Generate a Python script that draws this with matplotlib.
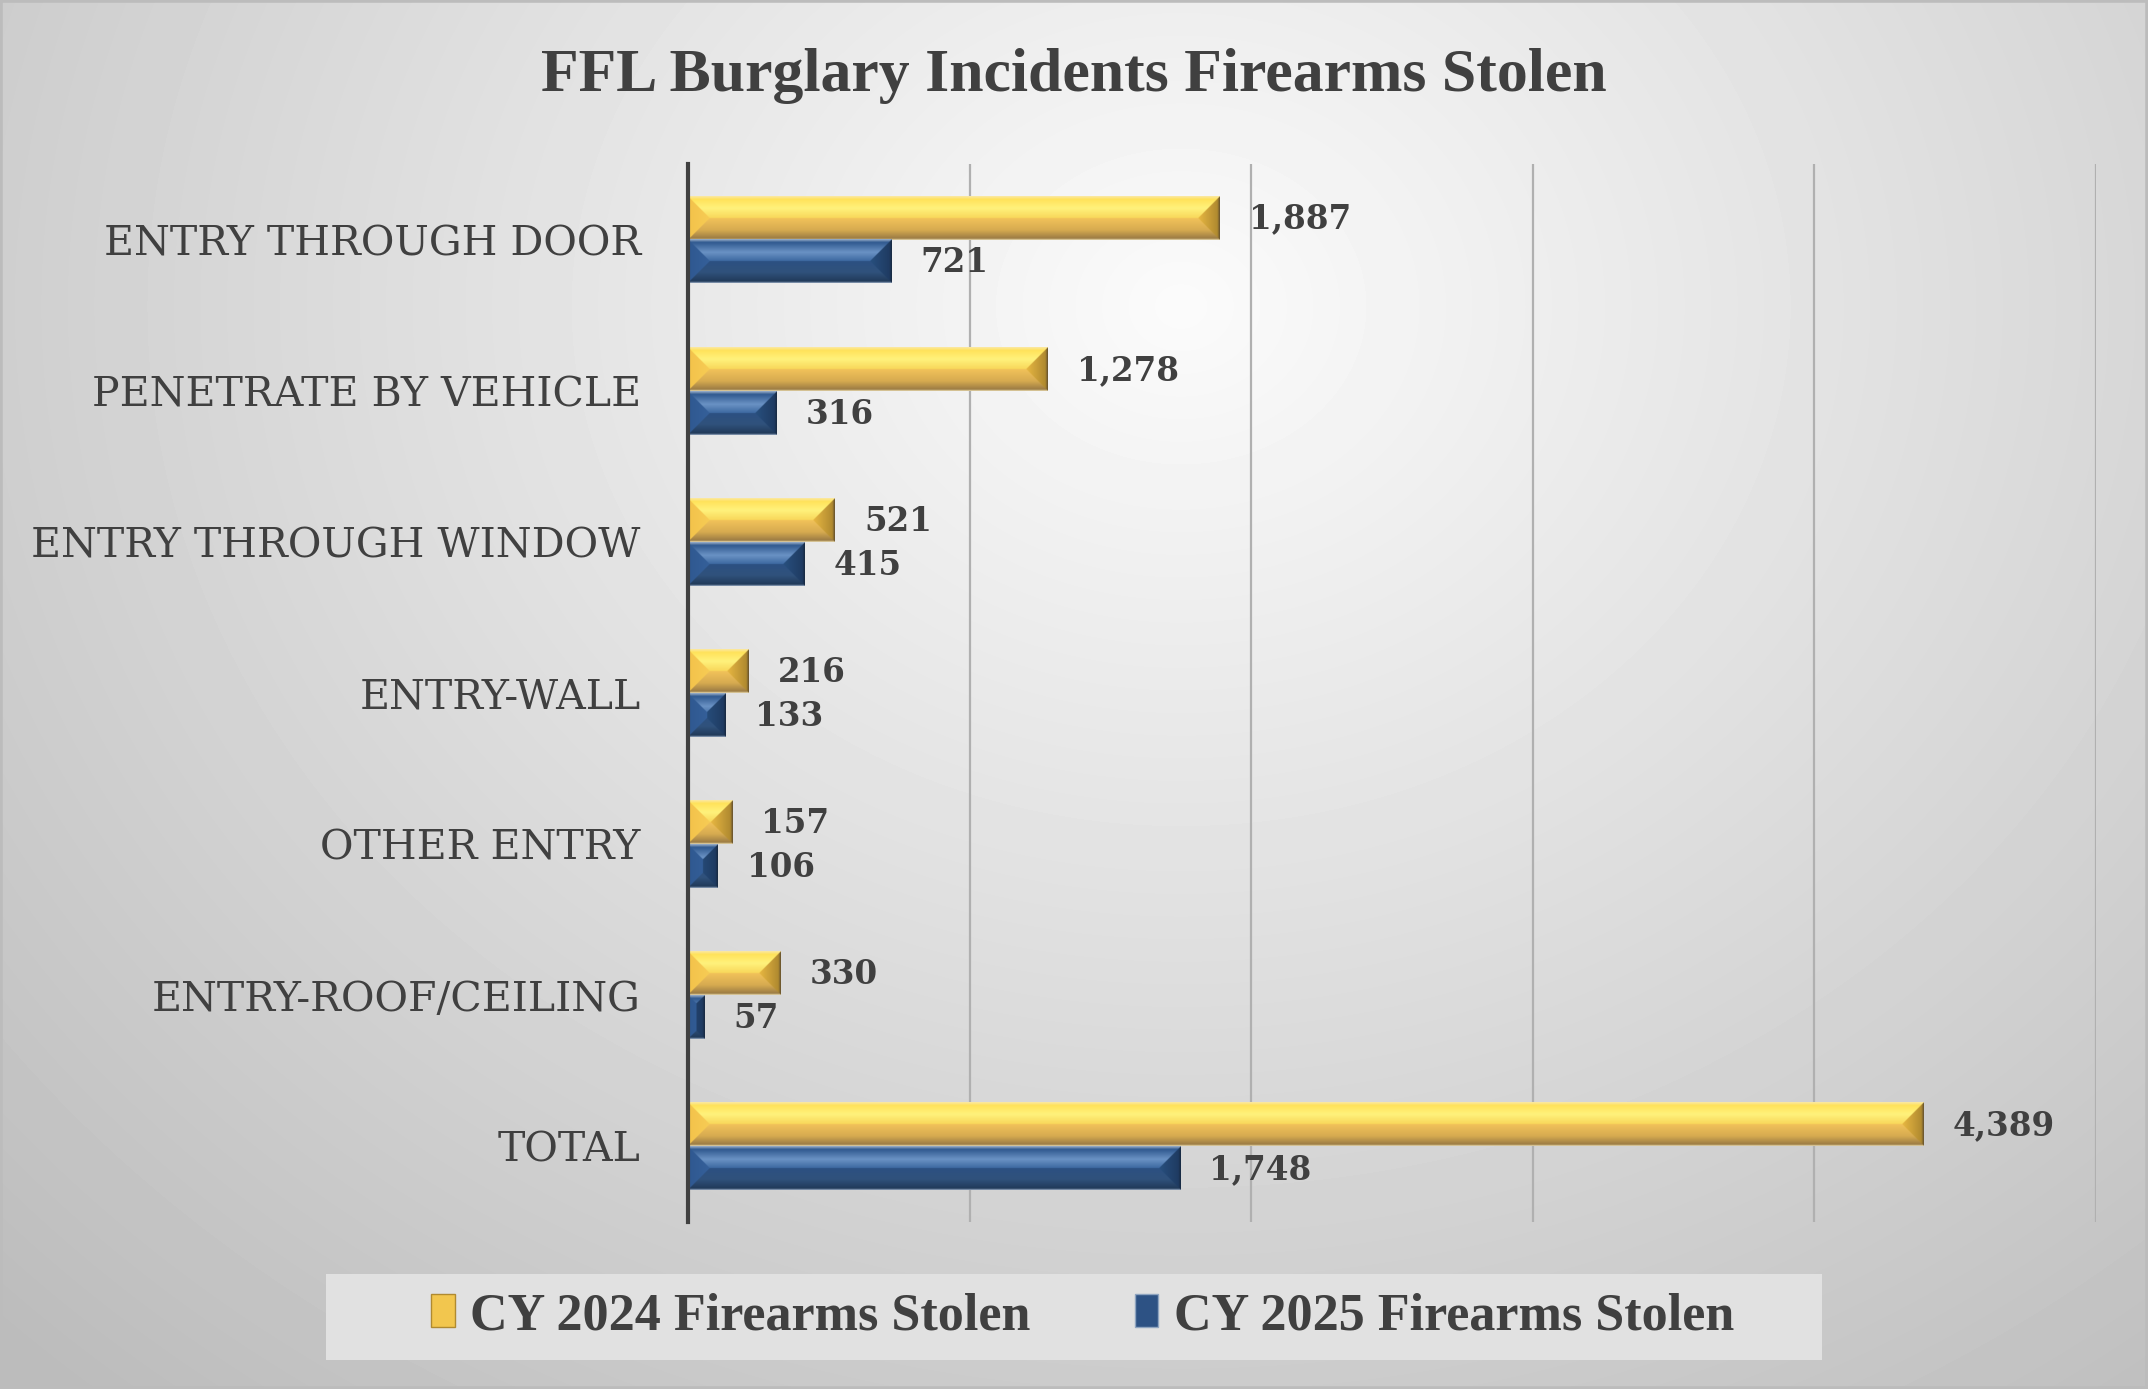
import numpy as np
import matplotlib
matplotlib.use('Agg')
import matplotlib.pyplot as plt
from matplotlib.patches import Rectangle, Patch
from matplotlib.colors import to_rgb

# data
categories = ['ENTRY THROUGH DOOR', 'PENETRATE BY VEHICLE', 'ENTRY THROUGH WINDOW',
              'ENTRY-WALL', 'OTHER ENTRY', 'ENTRY-ROOF/CEILING', 'TOTAL']
cy2024 = [1887, 1278, 521, 216, 157, 330, 4389]
cy2025 = [721, 316, 415, 133, 106, 57, 1748]
series_names = ['CY 2024 Firearms Stolen', 'CY 2025 Firearms Stolen']
xticks = [0, 1000, 2000, 3000, 4000, 5000]

TXT = '#404040'
W, H = 2148, 1389

# bevel colours per face: list of (t, colour), t=0 at the edge, 1 at the centre line
gold = {
    'top': [(0, '#fbe9a8'), (0.15, '#ffe25a'), (0.55, '#fff27c'), (1, '#f8d75a')],
    'bottom': [(0, '#efe2b8'), (0.08, '#9c7c44'), (0.45, '#d6aa50'), (1, '#f2c35a')],
    'left': [(0, '#f3c24a'), (1, '#f7cc55')],
    'right': [(0, '#5e4c2e'), (0.12, '#b08a30'), (1, '#e9b842')],
}
navy = {
    'top': [(0, '#a3b6ce'), (0.15, '#30598f'), (0.6, '#6a92c4'), (1, '#3d69a1')],
    'bottom': [(0, '#a0b1c8'), (0.08, '#213a5a'), (0.5, '#30527c'), (1, '#2c5082')],
    'left': [(0, '#2f5890'), (1, '#35609a')],
    'right': [(0, '#18283e'), (0.12, '#1f3b62'), (1, '#28507f')],
}


def ramp(stops, t):
    ts = [s[0] for s in stops]
    cs = np.array([to_rgb(s[1]) for s in stops])
    return np.stack([np.interp(t, ts, cs[:, k]) for k in range(3)], axis=-1)


def bevel_img(w, h, pal):
    yy, xx = np.mgrid[0:h, 0:w] + 0.5
    d = np.stack([yy, h - yy, xx, w - xx])
    face = d.argmin(axis=0)
    t = np.clip(d.min(axis=0) / (h / 2.0), 0, 1)
    img = np.zeros((h, w, 3))
    for k, name in enumerate(['top', 'bottom', 'left', 'right']):
        m = face == k
        img[m] = ramp(pal[name], t[m])
    return img


fig = plt.figure(figsize=(W / 100, H / 100), dpi=100)

# radial background
bg = fig.add_axes([0, 0, 1, 1], zorder=-10)
gy, gx = np.mgrid[0:1:400j, 0:1:600j]
r = np.sqrt(((gx - 0.55) / 0.72) ** 2 + ((gy - 0.22) / 0.95) ** 2)
shade = np.clip(251 - 58 * r, 188, 251) / 255.0
bg.imshow(shade, cmap='gray', vmin=0, vmax=1, extent=(0, 1, 0, 1), aspect='auto',
          interpolation='bilinear')
bg.set_axis_off()
fig.patches.append(Rectangle((0, 0), 1, 1, transform=fig.transFigure, fill=False,
                             edgecolor='#bcbcbc', linewidth=4, zorder=5))

ax = fig.add_axes([688 / W, 1 - 1222 / H, (2096 - 688) / W, (1222 - 164) / H])
ax.set_facecolor('none')

n = len(categories)
ypos = np.arange(n)[::-1]
bh = 0.29
bars1 = ax.barh(ypos + bh / 2, cy2024, height=bh, color='#f2c64e', zorder=2)
bars2 = ax.barh(ypos - bh / 2, cy2025, height=bh, color='#2d5284', zorder=2)

ax.set_xlim(0, 5000)
ax.set_ylim(-0.5, n - 0.5)

# bevelled face on each bar
for bars, pal in ((bars1, gold), (bars2, navy)):
    for b in bars:
        x0, y0 = b.get_x(), b.get_y()
        x1, y1 = x0 + b.get_width(), y0 + b.get_height()
        p0 = ax.transData.transform((x0, y0))
        p1 = ax.transData.transform((x1, y1))
        pw = max(int(round((p1[0] - p0[0]) * 2)), 2)
        ph = max(int(round((p1[1] - p0[1]) * 2)), 2)
        ax.imshow(bevel_img(pw, ph, pal), extent=(x0, x1, y0, y1), origin='upper',
                  aspect='auto', interpolation='bilinear', zorder=3)

for bars, vals in ((bars1, cy2024), (bars2, cy2025)):
    for b, v in zip(bars, vals):
        ax.annotate(f'{v:,}', (b.get_width(), b.get_y() + b.get_height() / 2),
                    xytext=(21, -1), textcoords='offset points', ha='left', va='center',
                    fontsize=23.5, fontweight='bold', family='DejaVu Serif', color=TXT)

ax.set_xlim(0, 5000)
ax.set_ylim(-0.5, n - 0.5)
ax.set_xticks(xticks)
ax.set_xticklabels([])
ax.set_yticks(ypos)
ax.set_yticklabels(categories, family='DejaVu Serif', fontsize=29.5, color=TXT)
ax.tick_params(axis='both', length=0)
ax.tick_params(axis='y', pad=34)
ax.grid(axis='x', color='#b0b0b0', linewidth=1.6)
ax.set_axisbelow(True)
for s in ['top', 'right', 'bottom']:
    ax.spines[s].set_visible(False)
ax.spines['left'].set_color('#404040')
ax.spines['left'].set_linewidth(3)
ax.spines['left'].set_zorder(4)

fig.text(0.5, 1 - 76 / H, 'FFL Burglary Incidents Firearms Stolen', ha='center', va='center',
         family='Liberation Serif', fontweight='bold', fontsize=44.5, color=TXT)

# legend
fig.patches.append(Rectangle((326 / W, 1 - 1360 / H), (1822 - 326) / W, 86 / H,
                             transform=fig.transFigure, facecolor='#e1e1e1',
                             edgecolor='none', zorder=1))
handles = [Patch(facecolor='#f2c64e', edgecolor='#b08a30', linewidth=1),
           Patch(facecolor='#2d5284', edgecolor='#8ea4c0', linewidth=1)]
leg = fig.legend(handles, series_names, loc='center', bbox_to_anchor=(0.504, 1 - 1316 / H),
                 ncol=2, frameon=False, handlelength=0.45, handleheight=0.6,
                 handletextpad=0.3, columnspacing=2.0,
                 prop={'family': 'Liberation Serif', 'weight': 'bold', 'size': 37.5})
for t in leg.get_texts():
    t.set_color(TXT)
leg.set_zorder(6)

fig.savefig('out.png', dpi=100)
